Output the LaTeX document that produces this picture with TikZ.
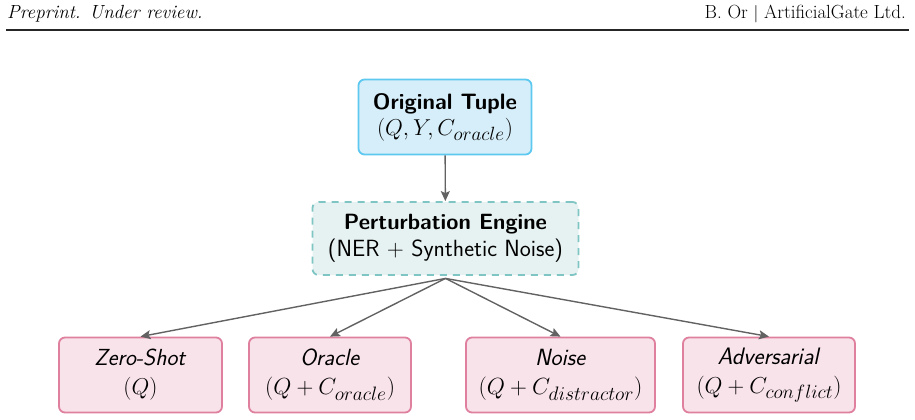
\documentclass[tikz,border=0pt]{standalone}
\usepackage{amsmath}
\usepackage{graphicx}
\usetikzlibrary{arrows.meta}
\definecolor{tupfill}{HTML}{D6EEF9}
\definecolor{tupdraw}{HTML}{5DC8F0}
\definecolor{engfill}{HTML}{E6F2F1}
\definecolor{engdraw}{HTML}{7EC5C3}
\definecolor{outfill}{HTML}{F9E3EA}
\definecolor{outdraw}{HTML}{E0809F}
\definecolor{arr}{HTML}{626262}
\newcommand{\fitw}[2]{\resizebox{#1pt}{!}{#2}}
\tikzset{
  boxbase/.style={rounded corners=6pt, line width=1.8pt, align=center, font=\sffamily, inner sep=0pt},
  tuplebox/.style={boxbase, fill=tupfill, draw=tupdraw, minimum width=173pt, minimum height=75pt, font=\fontsize{19}{26}\selectfont\sffamily},
  enginebox/.style={boxbase, fill=engfill, draw=engdraw, dash pattern=on 7pt off 6pt, minimum width=266pt, minimum height=73pt, font=\fontsize{19}{27}\selectfont\sffamily},
  outbox/.style={boxbase, fill=outfill, draw=outdraw, minimum height=75pt, font=\fontsize{19}{29}\selectfont\sffamily},
  conn/.style={draw=arr, line width=1.4pt, -{Stealth[length=10pt,width=9pt,inset=2pt]}},
  hdr/.style={font=\fontsize{19}{23}\selectfont, inner sep=0pt}
}
\begin{document}
\begin{tikzpicture}[x=1pt,y=-1pt]
\useasboundingbox (0,0) rectangle (915,420);
% header
\node[hdr, anchor=base west] (hl) at (7,19) {\itshape Preprint. Under review.};
\node[hdr, anchor=base east] (hr) at (906,19) {B. Or $|$ ArtificialGate Ltd.};
\draw[line width=2pt, black!85] (6,30.3) -- (909,30.3);
% nodes
\node[tuplebox] (tup) at (445,117) {\fitw{144}{\textbf{Original Tuple}}\\\fitw{136}{$(Q, Y, C_{oracle})$}};
\node[enginebox] (eng) at (445.5,238.5) {\fitw{203}{\textbf{Perturbation Engine}}\\\fitw{235}{(NER + Synthetic Noise)}};
\coordinate (hub) at ([yshift=-2.5pt]eng.south);
\node[outbox, minimum width=163pt] (zs) at (140.5,375) {\fitw{92}{\textit{Zero-Shot}}\\\fitw{34}{$(Q)$}};
\node[outbox, minimum width=162pt] (or) at (330,375) {\fitw{60}{\textit{Oracle}}\\\fitw{130}{$(Q + C_{oracle})$}};
\node[outbox, minimum width=189pt] (no) at (560.5,375) {\fitw{51}{\textit{Noise}}\\\fitw{164}{$(Q + C_{distractor})$}};
\node[outbox, minimum width=172pt] (ad) at (769,375) {\fitw{103}{\textit{Adversarial}}\\\fitw{145}{$(Q + C_{conflict})$}};
% connectors
\draw[conn] (tup) -- (eng);
\draw[conn] (hub) -- (zs.north);
\draw[conn] (hub) -- (or.north);
\draw[conn] (hub) -- (no.north);
\draw[conn] (hub) -- (ad.north);
\end{tikzpicture}
\end{document}
